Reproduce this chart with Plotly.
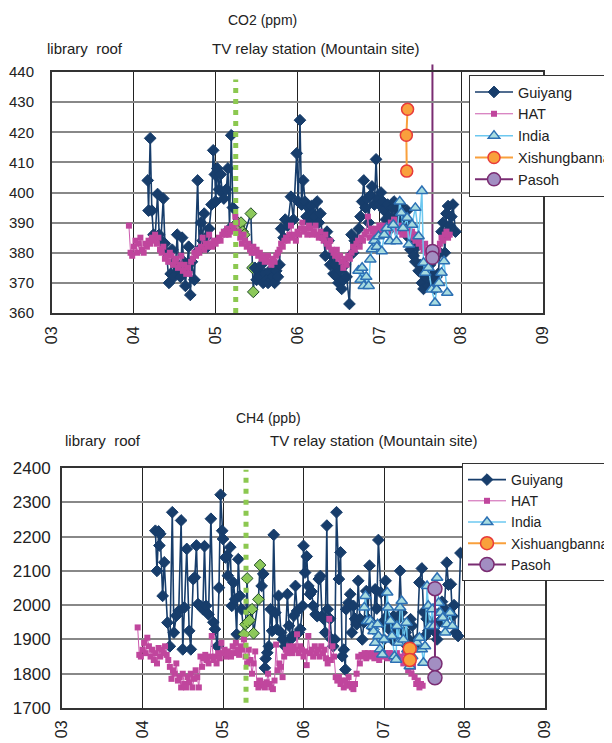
import plotly.graph_objects as go

# ---------------- CO2 (ppm) ----------------
gy_co2_x = [4.17, 4.18, 4.20, 4.22, 4.24, 4.26, 4.29, 4.31, 4.33, 4.36, 4.38, 4.40, 4.43, 4.45, 4.47, 4.49, 4.51, 4.53,
            4.55, 4.57, 4.59, 4.61, 4.63, 4.65, 4.67, 4.69, 4.71, 4.74, 4.78, 4.80, 4.82, 4.84, 4.86, 4.88, 4.90, 4.92,
            4.95, 4.97, 4.99, 5.00, 5.02, 5.04, 5.06, 5.08, 5.10, 5.13, 5.15, 5.17, 5.19, 5.21, 5.23,
            5.27, 5.29, 5.31, 5.33, 5.35, 5.43, 5.45, 5.46,
            5.48, 5.50, 5.52, 5.54, 5.56, 5.58, 5.60, 5.62, 5.64, 5.66, 5.68, 5.70, 5.72, 5.74, 5.76, 5.78,
            5.80, 5.83, 5.85, 5.88, 5.92, 5.95, 5.99, 6.01, 6.03, 6.05, 6.07, 6.09, 6.11, 6.13, 6.15, 6.17, 6.19,
            6.21, 6.24, 6.26, 6.28, 6.30, 6.32, 6.34, 6.36, 6.38, 6.40, 6.42, 6.44, 6.46, 6.48, 6.50, 6.52, 6.54,
            6.56, 6.58, 6.60, 6.635, 6.66, 6.68, 6.70, 6.72, 6.75, 6.77, 6.79, 6.81, 6.83, 6.85, 6.87, 6.89, 6.91,
            6.94, 6.96, 6.98, 7.00, 7.02, 7.04, 7.06, 7.08, 7.10, 7.12, 7.14, 7.16, 7.18, 7.20, 7.22, 7.24, 7.26,
            7.28, 7.30, 7.32, 7.34, 7.36, 7.38, 7.40, 7.42, 7.44, 7.46, 7.48, 7.50, 7.52, 7.54, 7.56, 7.58, 7.60,
            7.62, 7.64, 7.66, 7.68, 7.70, 7.72, 7.74, 7.76, 7.78, 7.80, 7.82, 7.84, 7.86, 7.88, 7.90, 7.93]
gy_co2_y = [404, 394, 418, 394, 386, 385, 399.5, 386, 384, 398, 383, 380, 370, 373, 381, 372, 376, 386,
            374, 372, 385, 377, 369, 376, 382, 366, 377, 371, 404, 381, 390, 384, 393, 385, 382, 388,
            396, 414, 406, 397, 408, 401, 406, 400, 398, 401, 408, 388, 419, 395, 389,
            390, 389, 390, 387, 386, 393, 375, 367,
            375, 371, 374, 372, 376, 370, 373, 371, 370, 374, 371, 372, 370, 374, 372, 376,
            388, 385, 391, 389, 398.6, 391, 413, 397, 424, 396, 404, 397, 392, 395, 390, 395.5, 393,
            392, 397, 390, 393, 386, 385, 379, 387, 384, 376, 379, 373, 376, 372, 370, 374, 368,
            371, 376, 372, 363, 386, 380, 384, 383, 388, 392, 397, 404, 395, 398, 390, 399, 402, 396,
            411, 398, 396, 400, 397, 394, 391, 396, 392, 388, 395, 397, 392, 395, 389, 396, 392,
            387, 390, 394, 385, 381, 386, 379, 377, 382, 374, 376, 370, 368, 372, 374, 369, 376,
            373, 370, 368, 372, 373, 380, 387, 390, 380, 393, 395.5, 389, 392, 396, 387, 403.5]

hat_co2_x = [3.94, 3.96, 3.98, 4.00, 4.02, 4.04, 4.06, 4.08, 4.10, 4.12, 4.14, 4.16, 4.18, 4.20, 4.22, 4.24, 4.26, 4.28,
             4.30, 4.32, 4.34, 4.36, 4.38, 4.40, 4.42, 4.44, 4.46, 4.48, 4.50, 4.52, 4.54, 4.56, 4.58, 4.60, 4.62, 4.64,
             4.66, 4.68, 4.70, 4.72, 4.74, 4.76, 4.78, 4.80, 4.82, 4.84, 4.86, 4.88, 4.90, 4.92, 4.94, 4.96, 4.98, 5.00,
             5.02, 5.04, 5.06, 5.08, 5.10, 5.12, 5.14, 5.16, 5.18, 5.20, 5.22, 5.24, 5.26, 5.28, 5.30, 5.32, 5.34, 5.36,
             5.38, 5.40, 5.42, 5.44, 5.46, 5.48, 5.50, 5.52, 5.54, 5.56, 5.58, 5.60, 5.62, 5.64, 5.66, 5.68, 5.70, 5.72,
             5.74, 5.76, 5.78, 5.80, 5.82, 5.84, 5.86, 5.88, 5.90, 5.92, 5.94, 5.96, 5.98, 6.00, 6.02, 6.04, 6.06, 6.08,
             6.10, 6.12, 6.14, 6.16, 6.18, 6.20, 6.22, 6.24, 6.26, 6.28, 6.30, 6.32, 6.34, 6.36, 6.38, 6.40, 6.42, 6.44,
             6.46, 6.48, 6.50, 6.52, 6.54, 6.56, 6.58, 6.60, 6.62, 6.64, 6.66, 6.68, 6.70, 6.72, 6.74, 6.76, 6.78, 6.80,
             6.82, 6.84, 6.86, 6.88, 6.90, 6.92, 6.94, 6.96, 6.98, 7.00, 7.02, 7.04, 7.06, 7.08, 7.10, 7.12, 7.14, 7.16,
             7.18, 7.20, 7.22, 7.24, 7.26, 7.28, 7.30, 7.32, 7.34, 7.36, 7.38, 7.40, 7.42, 7.44, 7.46, 7.48, 7.50, 7.52,
             7.54, 7.56, 7.58, 7.60, 7.62, 7.64, 7.66, 7.68, 7.70, 7.72, 7.74, 7.76, 7.78, 7.80, 7.82, 7.84, 7.86]
hat_co2_y = [389, 380, 379, 382, 384, 380, 383, 385, 381, 380, 383, 382, 384, 383, 385, 384, 386, 383,
             385, 381, 380, 382, 378, 379, 377, 380, 379, 376, 377, 378, 375, 376, 379, 374, 376, 373,
             375, 373, 377, 378, 380, 379, 381, 380, 382, 385, 381, 383, 382, 386, 383, 382, 384, 383,
             384, 385, 384, 386, 387, 386, 388, 386, 387, 389, 388, 392, 390, 387, 385, 383, 386, 384,
             382, 383, 381, 380, 382, 380, 381, 379, 380, 378, 379, 377, 378, 379, 377, 376, 378, 377,
             379, 380, 381, 383, 382, 384, 385, 384, 386, 389, 385, 386, 384, 387, 386, 388, 390, 387,
             388, 386, 389, 388, 386, 387, 389, 386, 385, 387, 385, 384, 386, 383, 382, 384, 381, 380,
             379, 381, 378, 379, 377, 375, 378, 376, 379, 378, 380, 382, 381, 383, 384, 382, 385, 384,
             386, 387, 392, 385, 388, 387, 386, 388, 387, 389, 388, 387, 389, 388, 386, 388, 390, 388,
             391, 389, 387, 389, 388, 386, 388, 387, 386, 388, 386, 387, 385, 384, 386, 383, 384, 382,
             381, 383, 380, 379, 381, 380, 379, 380, 380, 381, 383, 385, 384, 386, 387, 385, 386]

india_co2_x = [6.745, 6.77, 6.79, 6.81, 6.84, 6.87, 6.89, 6.91, 6.94, 6.97, 6.99, 7.03, 7.06, 7.09, 7.13, 7.17,
               7.21, 7.25, 7.27, 7.29, 7.34, 7.36, 7.40, 7.44, 7.48, 7.52, 7.54, 7.56, 7.60, 7.64, 7.68, 7.70,
               7.73, 7.76, 7.79, 7.83]
india_co2_y = [374, 371, 375, 369, 372, 369, 377.8, 381.2, 384, 382, 385.5, 380.5, 386, 388.2, 383.8, 389.3,
               383.8, 397, 393.3, 388.2, 391.6, 382.7, 389.3, 394.9, 385.5, 400.5, 376.7, 373.4, 375, 367.8, 363.4, 367.8,
               370, 373.4, 377.2, 366.7]

xish_co2_x = [7.345, 7.33, 7.335]
xish_co2_y = [427.6, 419, 407.1]

pasoh_co2_x = [7.649, 7.649]
pasoh_co2_y = [380.6, 378.3]
pasoh_co2_top = 442.5   # off-scale value (line leaves the plot)

# ---------------- CH4 (ppb) ----------------
gy_ch4_x = [4.16, 4.18, 4.20, 4.21, 4.22, 4.25, 4.27, 4.31, 4.34, 4.37, 4.39, 4.42, 4.45, 4.48, 4.50, 4.52, 4.55,
            4.58, 4.60, 4.63, 4.65, 4.67, 4.69, 4.72, 4.75, 4.77, 4.79, 4.82, 4.85, 4.88, 4.90, 4.93, 4.95, 4.97,
            4.99, 5.00, 5.03, 5.05, 5.06, 5.09, 5.11, 5.13, 5.15, 5.17, 5.19, 5.21, 5.23, 5.26,
            5.28, 5.30, 5.31, 5.33, 5.36, 5.38, 5.44, 5.46, 5.48,
            5.50, 5.52, 5.53, 5.55, 5.57, 5.59, 5.61, 5.63, 5.65, 5.67, 5.69, 5.72, 5.74, 5.77, 5.80, 5.82, 5.84,
            5.86, 5.88, 5.90, 5.92, 5.94, 5.96, 5.99, 6.00, 6.02, 6.04, 6.06, 6.08, 6.10, 6.12, 6.15, 6.17, 6.19,
            6.21, 6.23, 6.25, 6.27, 6.29, 6.30, 6.33, 6.35, 6.37, 6.39, 6.41, 6.44, 6.46, 6.48, 6.50, 6.52, 6.53,
            6.56, 6.58, 6.60, 6.62, 6.64, 6.66, 6.68, 6.70, 6.73, 6.75, 6.78, 6.80, 6.82, 6.85, 6.87, 6.89, 6.91,
            6.93, 6.96, 6.98, 7.00, 7.02, 7.04, 7.06, 7.08, 7.10, 7.12, 7.14, 7.16, 7.18, 7.20, 7.22, 7.25, 7.27,
            7.29, 7.31, 7.33, 7.35, 7.38, 7.41, 7.44, 7.47, 7.49, 7.51, 7.53, 7.55, 7.58, 7.60, 7.62, 7.64, 7.66,
            7.68, 7.70, 7.72, 7.75, 7.78, 7.80, 7.83, 7.85, 7.87, 7.89, 7.92, 7.95]
gy_ch4_y = [2217, 2100, 2215, 2174, 2208, 2027, 2125, 1949, 1880, 2271, 1920, 1969, 1983, 2247, 1871, 1993, 2164,
            1925, 1871, 2076, 2081, 2174, 2003, 1998, 1988, 2172, 1998, 1973, 2252, 1950, 1930, 1880, 2051, 2322,
            2217, 2193, 2139, 2144, 2086, 2169, 1998, 2066, 2017, 1915, 2134, 2027, 1988, 1915,
            1944, 2078, 1950, 1956, 1988, 1918, 2017, 2117, 2056,
            2091, 1817, 1844, 1861, 1880, 1988, 1925, 2205, 1978, 1930, 2027, 1920, 1900, 1880, 2032, 1940, 1900,
            1910, 1969, 2056, 1983, 1920, 1930, 1998, 2173, 2095, 2142, 2056, 2032, 2040, 1998, 1973, 1968, 2076,
            2085, 1968, 1960, 1920, 2232, 1988, 1960, 1900, 1880, 1900, 2271, 2076, 2154, 1851, 1870, 1812, 1988,
            2007, 2032, 1920, 1998, 1960, 1944, 2071, 1960, 1900, 1950, 2041, 1960, 2115, 1949, 1930, 2046, 1990,
            2190, 2037, 1950, 1900, 2071, 1968, 1930, 1949, 1900, 1968, 1900, 1929, 1960, 2100, 1978, 1920, 1920,
            1880, 1900, 1959, 1940, 1880, 1900, 2066, 2107, 1980, 1910, 1960, 1925, 1944, 1950, 1949, 1920, 1900,
            1950, 1980, 2010, 1990, 2124, 2060, 2061, 1968, 2000, 1920, 1910, 2152]

hat_ch4_x = [3.94, 3.96, 3.98, 4.00, 4.02, 4.04, 4.06, 4.08, 4.10, 4.12, 4.14, 4.16, 4.18, 4.20, 4.22, 4.24, 4.26, 4.28,
             4.30, 4.32, 4.34, 4.36, 4.38, 4.40, 4.42, 4.44, 4.46, 4.48, 4.50, 4.52, 4.54, 4.56, 4.58, 4.60, 4.62, 4.64,
             4.66, 4.68, 4.70, 4.72, 4.74, 4.76, 4.78, 4.80, 4.82, 4.84, 4.86, 4.88, 4.90, 4.92, 4.94, 4.96, 4.98, 5.00,
             5.02, 5.04, 5.06, 5.08, 5.10, 5.12, 5.14, 5.16, 5.18, 5.20, 5.22, 5.24, 5.26, 5.28, 5.30, 5.32, 5.34, 5.36,
             5.38, 5.40, 5.42, 5.44, 5.46, 5.48, 5.50, 5.52, 5.54, 5.56, 5.58, 5.60, 5.62, 5.64, 5.66, 5.68, 5.70, 5.72,
             5.74, 5.76, 5.78, 5.80, 5.82, 5.84, 5.86, 5.88, 5.90, 5.92, 5.94, 5.96, 5.98, 6.00, 6.02, 6.04, 6.06, 6.08,
             6.10, 6.12, 6.14, 6.16, 6.18, 6.20, 6.22, 6.24, 6.26, 6.28, 6.30, 6.32, 6.34, 6.36, 6.38, 6.40, 6.42, 6.44,
             6.46, 6.48, 6.50, 6.52, 6.54, 6.56, 6.58, 6.60, 6.62, 6.64, 6.66, 6.68, 6.70, 6.72, 6.74, 6.76, 6.78, 6.80,
             6.82, 6.84, 6.86, 6.88, 6.90, 6.92, 6.94, 6.96, 6.98, 7.00, 7.02, 7.04, 7.06, 7.08, 7.10, 7.12, 7.14, 7.16,
             7.18, 7.20, 7.22, 7.24, 7.26, 7.28, 7.30, 7.32, 7.34, 7.36, 7.38, 7.40, 7.42, 7.44, 7.46, 7.48]
hat_ch4_y = [1935, 1855, 1850, 1870, 1890, 1860, 1905, 1880, 1850, 1870, 1840, 1860, 1830, 1875, 1850, 1870, 1860, 1880,
             1855, 1840, 1820, 1785, 1810, 1800, 1830, 1780, 1790, 1760, 1800, 1770, 1760, 1790, 1775, 1800, 1760, 1785,
             1810, 1790, 1760, 1850, 1820, 1845, 1855, 1840, 1830, 1850, 1910, 1840, 1850, 1830, 1860, 1845, 1890, 1860,
             1870, 1850, 1865, 1860, 1850, 1880, 1860, 1890, 1870, 1855, 1880, 1870, 1900, 1850, 1830, 1870, 1840, 1800,
             1830, 1865, 1770, 1760, 1780, 1765, 1770, 1760, 1775, 1800, 1770, 1760, 1755, 1780, 1885, 1810, 1830, 1820,
             1790, 1850, 1870, 1860, 1880, 1870, 1860, 1880, 1870, 1915, 1860, 1880, 1870, 1850, 1865, 1825, 1910, 1860,
             1870, 1850, 1880, 1860, 1870, 1850, 1880, 1860, 1870, 1845, 1830, 1960, 1840, 1880, 1850, 1790, 1780, 1790,
             1770, 1780, 1760, 1780, 1765, 1790, 1770, 1760, 1755, 1770, 1800, 1850, 1830, 1855, 1850, 1860, 1845, 1860,
             1850, 1855, 1860, 1845, 1855, 1860, 1840, 1860, 1855, 1850, 1860, 1845, 1860, 1850, 1860, 1845, 1855, 1860,
             1845, 1850, 1840, 1830, 1860, 1850, 1810, 1830, 1800, 1820, 1790, 1770, 1780, 1760, 1770, 1765]

india_ch4_x = [6.755, 6.77, 6.79, 6.83, 6.85, 6.87, 6.89, 6.92, 6.93, 6.95, 6.98, 7.00, 7.04, 7.05, 7.08, 7.10,
               7.13, 7.15, 7.16, 7.18, 7.20, 7.22, 7.24, 7.28, 7.29, 7.32, 7.35, 7.38, 7.41, 7.44, 7.47, 7.49,
               7.51, 7.535, 7.55, 7.57, 7.60, 7.62, 7.66, 7.68, 7.70, 7.73, 7.76, 7.78, 7.82, 7.85]
india_ch4_y = [1993, 2027, 1954, 1954, 1939, 1924, 1890, 1944, 1910, 1871, 1856, 1900, 2037, 1993, 1954, 1910,
               1851, 1841, 1939, 1890, 1993, 2012, 1900, 1949, 1871, 1822, 1851, 1871, 1890, 1905, 1871, 1832,
               1880, 2056, 1998, 1939, 1988, 1939, 2080, 2007, 1978, 1963, 1920, 1944, 1978, 1939]

xish_ch4_x = [7.32, 7.32]
xish_ch4_y = [1873, 1840]

pasoh_ch4_x = [7.633, 7.633, 7.633]
pasoh_ch4_y = [2048, 1829, 1788]

x_tick_vals = [3, 4, 5, 6, 7, 8, 9]
x_tick_text = ["03", "04", "05", "06", "07", "08", "09"]
site_change_co2 = 5.245   # library roof -> TV relay station
site_change_ch4 = 5.286
green_period = (5.255, 5.465)

# ---------------- styles ----------------
FONT = "Liberation Sans, Arial, sans-serif"
NAVY = "#173D6B"
GREEN_FILL = "#8CC85A"
MAGENTA = "#C0469D"
INDIA_LINE = "#6CC8F0"
INDIA_FILL = "#A8DCE0"
INDIA_EDGE = "#2C70B4"
XISH_FILL = "#F9A03C"
XISH_EDGE = "#E83A3A"
PASOH_FILL = "#A28EC2"
PASOH_EDGE = "#7A2C72"

fig = go.Figure()


def add_series(xa, ya, legend, gx, gy, hx, hy, ix, iy, sx, sy, px, py, name_x, psize):
    gcol = [GREEN_FILL if green_period[0] <= v <= green_period[1] else NAVY for v in gx]
    gedge = ["#1E4A26" if green_period[0] <= v <= green_period[1] else NAVY for v in gx]
    fig.add_trace(go.Scatter(x=gx, y=gy, xaxis=xa, yaxis=ya, legend=legend, name="Guiyang",
                             mode="lines+markers", line=dict(color=NAVY, width=1.6),
                             marker=dict(symbol="diamond", size=9, color=gcol,
                                         line=dict(color=gedge, width=1))))
    fig.add_trace(go.Scatter(x=hx, y=hy, xaxis=xa, yaxis=ya, legend=legend, name="HAT",
                             mode="lines+markers", line=dict(color="#CC5AAE", width=1),
                             marker=dict(symbol="square", size=6, color=MAGENTA)))
    fig.add_trace(go.Scatter(x=ix, y=iy, xaxis=xa, yaxis=ya, legend=legend, name="India",
                             mode="lines+markers", line=dict(color=INDIA_LINE, width=1.5),
                             marker=dict(symbol="triangle-up", size=10, color=INDIA_FILL,
                                         line=dict(color=INDIA_EDGE, width=1.5))))
    fig.add_trace(go.Scatter(x=sx, y=sy, xaxis=xa, yaxis=ya, legend=legend, name=name_x,
                             mode="lines+markers", line=dict(color=XISH_FILL, width=2),
                             marker=dict(symbol="circle", size=psize - 1, color=XISH_FILL,
                                         line=dict(color=XISH_EDGE, width=1.5))))
    fig.add_trace(go.Scatter(x=px, y=py, xaxis=xa, yaxis=ya, legend=legend, name="Pasoh",
                             mode="lines+markers", line=dict(color=PASOH_EDGE, width=2),
                             marker=dict(symbol="circle", size=psize, color=PASOH_FILL,
                                         line=dict(color=PASOH_EDGE, width=1.5))))


add_series("x", "y", "legend", gy_co2_x, gy_co2_y, hat_co2_x, hat_co2_y, india_co2_x, india_co2_y,
           xish_co2_x, xish_co2_y, pasoh_co2_x, pasoh_co2_y, "Xishungbanna", 13)
add_series("x2", "y2", "legend2", gy_ch4_x, gy_ch4_y, hat_ch4_x, hat_ch4_y, india_ch4_x, india_ch4_y,
           xish_ch4_x, xish_ch4_y, pasoh_ch4_x, pasoh_ch4_y, "Xishuangbanna", 14)

# page has an 8px body margin: work in page pixels, convert to figure pixels
OFF = 8
W, H = 612 - OFF, 743 - OFF
L, T = 52 - OFF, 72 - OFF
R, B = (612 - OFF) - (545 - OFF), (743 - OFF) - (708 - OFF)
pw, ph = W - L - R, H - T - B

TOP_DOM = [1 - (313 - 72) / ph, 1.0]
BOT_DOM = [0.0, 1 - (468 - 72) / ph]
TOP_X_DOM = [0.0, (543 - 52) / pw]
BOT_X_DOM = [(62 - 52) / pw, 1.0]
CO2_RANGE = [360, 440]
CH4_RANGE = [1700, 2400]


def px_x(page_x):
    return (page_x - OFF - L) / pw


def px_y(page_y):
    return 1 - (page_y - OFF - T) / ph


def co2_paper(v):
    return TOP_DOM[0] + (v - CO2_RANGE[0]) / (CO2_RANGE[1] - CO2_RANGE[0]) * (TOP_DOM[1] - TOP_DOM[0])


shapes = [
    # site change (dotted green)
    dict(type="line", xref="x", yref="y", x0=site_change_co2, x1=site_change_co2, y0=360, y1=437.5,
         line=dict(color="#8CC850", width=5, dash="5px,6px")),
    dict(type="line", xref="x2", yref="y2", x0=site_change_ch4, x1=site_change_ch4, y0=1715, y1=2395,
         line=dict(color="#8CC850", width=5, dash="5px,6px")),
    # Pasoh line continuing to off-scale value
    dict(type="line", xref="x", yref="paper", x0=pasoh_co2_x[0], x1=pasoh_co2_x[0],
         y0=co2_paper(pasoh_co2_y[0]), y1=co2_paper(pasoh_co2_top),
         line=dict(color=PASOH_EDGE, width=2), layer="below"),
]

base_axis = dict(showline=True, mirror=True, linecolor="#333", linewidth=2,
                 ticks="", showgrid=True, zeroline=False)


def tfont(size):
    return dict(family=FONT, size=size, color="#222")


def ann(text, page_x, page_y, size):
    return dict(text=text, xref="paper", yref="paper", showarrow=False,
                x=px_x(page_x), y=px_y(page_y), xanchor="center", yanchor="middle",
                font=tfont(size))


fig.update_layout(
    width=W, height=H,
    margin=dict(l=L, r=R, t=T, b=B, autoexpand=False),
    paper_bgcolor="white", plot_bgcolor="white",
    font=dict(family=FONT, color="#222"),
    shapes=shapes,
    xaxis=dict(domain=TOP_X_DOM, range=[3, 9], anchor="y", tickvals=x_tick_vals, ticktext=x_tick_text,
               tickangle=-90, gridcolor="#222", gridwidth=1, ticklabelstandoff=5,
               tickfont=tfont(16), **base_axis),
    yaxis=dict(domain=TOP_DOM, range=CO2_RANGE, anchor="x", dtick=10, gridcolor="#888", gridwidth=1.5,
               ticklabelstandoff=13, tickfont=tfont(15), **base_axis),
    xaxis2=dict(domain=BOT_X_DOM, range=[3, 9], anchor="y2", tickvals=x_tick_vals, ticktext=x_tick_text,
                tickangle=-90, gridcolor="#222", gridwidth=1, ticklabelstandoff=4,
                tickfont=tfont(16), **base_axis),
    yaxis2=dict(domain=BOT_DOM, range=CH4_RANGE, anchor="x2", dtick=100, gridcolor="#888", gridwidth=1.5,
                ticklabelstandoff=6, tickfont=tfont(17), **base_axis),
    legend=dict(x=px_x(469), y=px_y(75), xanchor="left", yanchor="top", bgcolor="white",
                bordercolor="#333", borderwidth=1, font=tfont(14.5),
                itemwidth=38, tracegroupgap=0),
    legend2=dict(x=px_x(462), y=px_y(463), xanchor="left", yanchor="top", bgcolor="white",
                 bordercolor="#333", borderwidth=1, font=tfont(14),
                 itemwidth=38, tracegroupgap=0),
    showlegend=True,
    annotations=[
        ann("CO2 (ppm)", 262, 20, 14),
        ann("library  roof", 85, 48, 15),
        ann("TV relay station (Mountain site)", 316, 48, 15),
        ann("CH4 (ppb)", 268, 418, 14),
        ann("library  roof", 103, 440, 15),
        ann("TV relay station (Mountain site)", 374, 440, 15),
    ],
)

fig.write_html("out.html")
